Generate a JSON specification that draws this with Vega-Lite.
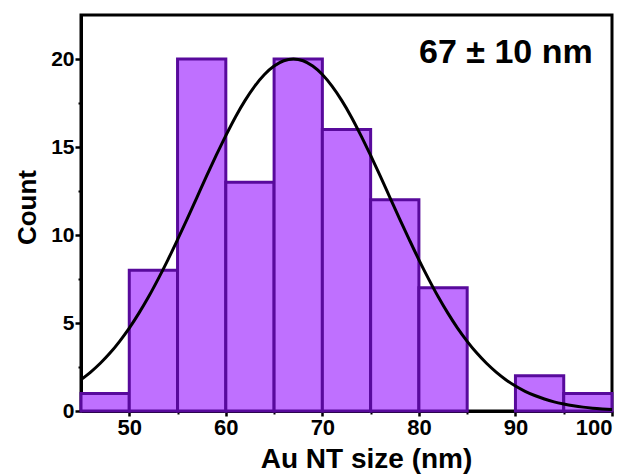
{
  "$schema": "https://vega.github.io/schema/vega-lite/v6.json",
  "autosize": {"type": "none"},
  "padding": {"left": 81, "top": 15, "right": 22, "bottom": 63},
  "width": 531,
  "height": 396,
  "config": {
    "view": {"stroke": "black", "strokeWidth": 3}
  },
  "datasets": {
    "bins": [
      {"start": 45, "end": 50, "count": 1},
      {"start": 50, "end": 55, "count": 8},
      {"start": 55, "end": 60, "count": 20},
      {"start": 60, "end": 65, "count": 13},
      {"start": 65, "end": 70, "count": 20},
      {"start": 70, "end": 75, "count": 16},
      {"start": 75, "end": 80, "count": 12},
      {"start": 80, "end": 85, "count": 7},
      {"start": 90, "end": 95, "count": 2},
      {"start": 95, "end": 100, "count": 1}
    ],
    "fit": [
      {"x": 45, "y": 1.78}, {"x": 46, "y": 2.21}, {"x": 47, "y": 2.71}, {"x": 48, "y": 3.29}, {"x": 49, "y": 3.96},
      {"x": 50, "y": 4.71}, {"x": 51, "y": 5.56}, {"x": 52, "y": 6.49}, {"x": 53, "y": 7.51}, {"x": 54, "y": 8.59},
      {"x": 55, "y": 9.74}, {"x": 56, "y": 10.92}, {"x": 57, "y": 12.13}, {"x": 58, "y": 13.34}, {"x": 59, "y": 14.52},
      {"x": 60, "y": 15.65}, {"x": 61, "y": 16.71}, {"x": 62, "y": 17.65}, {"x": 63, "y": 18.46}, {"x": 64, "y": 19.12},
      {"x": 65, "y": 19.6}, {"x": 66, "y": 19.9}, {"x": 67, "y": 20}, {"x": 68, "y": 19.9}, {"x": 69, "y": 19.6},
      {"x": 70, "y": 19.12}, {"x": 71, "y": 18.46}, {"x": 72, "y": 17.65}, {"x": 73, "y": 16.71}, {"x": 74, "y": 15.65},
      {"x": 75, "y": 14.52}, {"x": 76, "y": 13.34}, {"x": 77, "y": 12.13}, {"x": 78, "y": 10.92}, {"x": 79, "y": 9.74},
      {"x": 80, "y": 8.59}, {"x": 81, "y": 7.51}, {"x": 82, "y": 6.49}, {"x": 83, "y": 5.56}, {"x": 84, "y": 4.71},
      {"x": 85, "y": 3.96}, {"x": 86, "y": 3.29}, {"x": 87, "y": 2.71}, {"x": 88, "y": 2.21}, {"x": 89, "y": 1.78},
      {"x": 90, "y": 1.42}, {"x": 91, "y": 1.12}, {"x": 92, "y": 0.88}, {"x": 93, "y": 0.68}, {"x": 94, "y": 0.52},
      {"x": 95, "y": 0.4}, {"x": 96, "y": 0.3}, {"x": 97, "y": 0.22}, {"x": 98, "y": 0.16}, {"x": 99, "y": 0.12},
      {"x": 100, "y": 0.09}
    ],
    "label": [{"x": 98, "y": 19.75, "text": "67 ± 10 nm"}]
  },
  "resolve": {"axis": {"x": "independent", "y": "independent"}},
  "layer": [
    {
      "data": {"name": "bins"},
      "mark": {"type": "rect", "fill": "#bf70ff", "stroke": "#580a9c", "strokeWidth": 3},
      "encoding": {
        "x": {"field": "start", "type": "quantitative", "scale": {"domain": [45, 100], "nice": false, "zero": false},
              "axis": {"orient": "bottom", "title": "Au NT size (nm)", "values": [50, 60, 70, 80, 90, 100], "grid": false,
                       "domainColor": "black", "domainWidth": 3, "tickColor": "black", "tickWidth": 2.5, "tickSize": 5,
                       "labelFont": "Liberation Sans", "labelFontWeight": "bold", "labelFontSize": 22, "labelColor": "black", "labelPadding": 1,
                       "titleFont": "Liberation Sans", "titleFontWeight": "bold", "titleFontSize": 28, "titleColor": "black", "titlePadding": 7, "titleX": 285}},
        "x2": {"field": "end"},
        "y": {"field": "count", "type": "quantitative", "scale": {"domain": [0, 22.5], "nice": false},
              "axis": {"orient": "left", "title": "Count", "values": [0, 5, 10, 15, 20], "grid": false,
                       "domainColor": "black", "domainWidth": 3, "tickColor": "black", "tickWidth": 2.5, "tickSize": 6,
                       "labelFont": "Liberation Sans", "labelFontWeight": "bold", "labelFontSize": 21, "labelColor": "black", "labelPadding": 1,
                       "titleFont": "Liberation Sans", "titleFontWeight": "bold", "titleFontSize": 26, "titleColor": "black", "titlePadding": 10, "titleY": 192}},
        "y2": {"datum": 0}
      }
    },
    {
      "data": {"name": "fit"},
      "mark": {"type": "line", "color": "black", "strokeWidth": 3, "interpolate": "monotone"},
      "encoding": {
        "x": {"field": "x", "type": "quantitative",
              "axis": {"orient": "bottom", "title": null, "labels": false, "domain": false, "grid": false,
                       "values": [55, 65, 75, 85, 95], "tickColor": "black", "tickWidth": 2, "tickSize": 3}},
        "y": {"field": "y", "type": "quantitative",
              "axis": {"orient": "left", "title": null, "labels": false, "domain": false, "grid": false,
                       "values": [2.5, 7.5, 12.5, 17.5], "tickColor": "black", "tickWidth": 2, "tickSize": 3}}
      }
    },
    {
      "data": {"name": "label"},
      "mark": {"type": "text", "align": "right", "baseline": "alphabetic", "font": "Liberation Sans", "fontWeight": "bold", "fontSize": 34, "color": "black"},
      "encoding": {
        "x": {"field": "x", "type": "quantitative", "axis": null},
        "y": {"field": "y", "type": "quantitative", "axis": null},
        "text": {"field": "text"}
      }
    }
  ]
}
